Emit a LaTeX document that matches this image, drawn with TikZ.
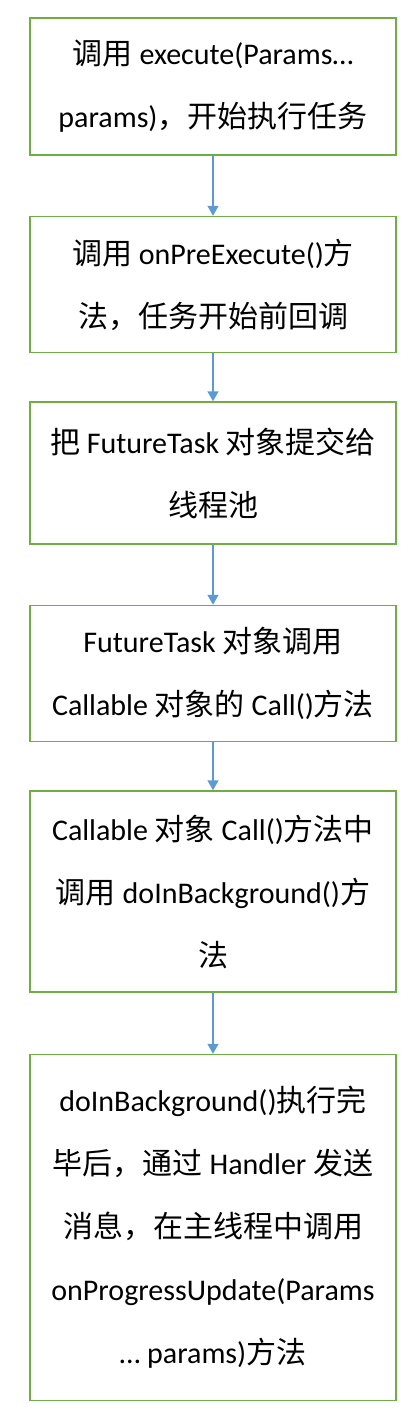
\documentclass[tikz,border=0pt]{standalone}
\usepackage{fontspec}
\setmainfont{Carlito}
\newfontfamily\cjk{Noto Sans CJK SC}
\newcommand{\zh}[1]{{\cjk #1}}
\usepackage{tikz}
\usetikzlibrary{positioning,arrows.meta}
\definecolor{boxgreen}{HTML}{70AD47}
\definecolor{arrowblue}{HTML}{5B9BD5}
\tikzstyle{arrow} = [line width=1.5pt, draw=arrowblue, -{Triangle[width=11pt,length=10pt]}]

\begin{document}
\begin{tikzpicture}[
		proc/.style={
				rectangle,
				draw=boxgreen,
				line width=1.5pt,
				fill=white,
				minimum width=366pt,
				inner sep=0pt,
				align=center,
				font=\fontsize{30}{63}\selectfont,
			}
	]
	\useasboundingbox (0,0) rectangle (416pt,-1416pt);

	% execute
	\node[proc, minimum height=137pt] (exec) at (213pt,-86.5pt) {
		\zh{调用} execute(Params… \\
		params)\zh{，开始执行任务}
	};

	% onPreExecute
	\node[proc, minimum height=136pt, below=60pt of exec] (pre) {
		\zh{调用} onPreExecute()\zh{方} \\
		\zh{法，任务开始前回调}
	};

	% thread pool
	\node[proc, minimum height=142pt, below=48pt of pre] (pool) {
		\zh{把} FutureTask \zh{对象提交给} \\
		\zh{线程池}
	};

	% FutureTask call
	\node[proc, minimum height=136pt, below=60pt of pool] (call) {
		FutureTask \zh{对象调用} \\
		Callable \zh{对象的} Call()\zh{方法}
	};

	% doInBackground
	\node[proc, minimum height=201pt, below=48pt of call] (bg) {
		Callable \zh{对象} Call()\zh{方法中} \\
		\zh{调用} doInBackground()\zh{方} \\
		\zh{法}
	};

	% onProgressUpdate
	\node[proc, minimum height=346pt, below=61pt of bg] (update) {
		doInBackground()\zh{执行完} \\
		\zh{毕后，通过} Handler \zh{发送} \\
		\zh{消息，在主线程中调用} \\
		onProgressUpdate(Params \\
		… params)\zh{方法}
	};

	% Connections
	\draw[arrow] (exec) -- (pre);
	\draw[arrow] (pre) -- (pool);
	\draw[arrow] (pool) -- (call);
	\draw[arrow] (call) -- (bg);
	\draw[arrow] (bg) -- (update);
\end{tikzpicture}
\end{document}
